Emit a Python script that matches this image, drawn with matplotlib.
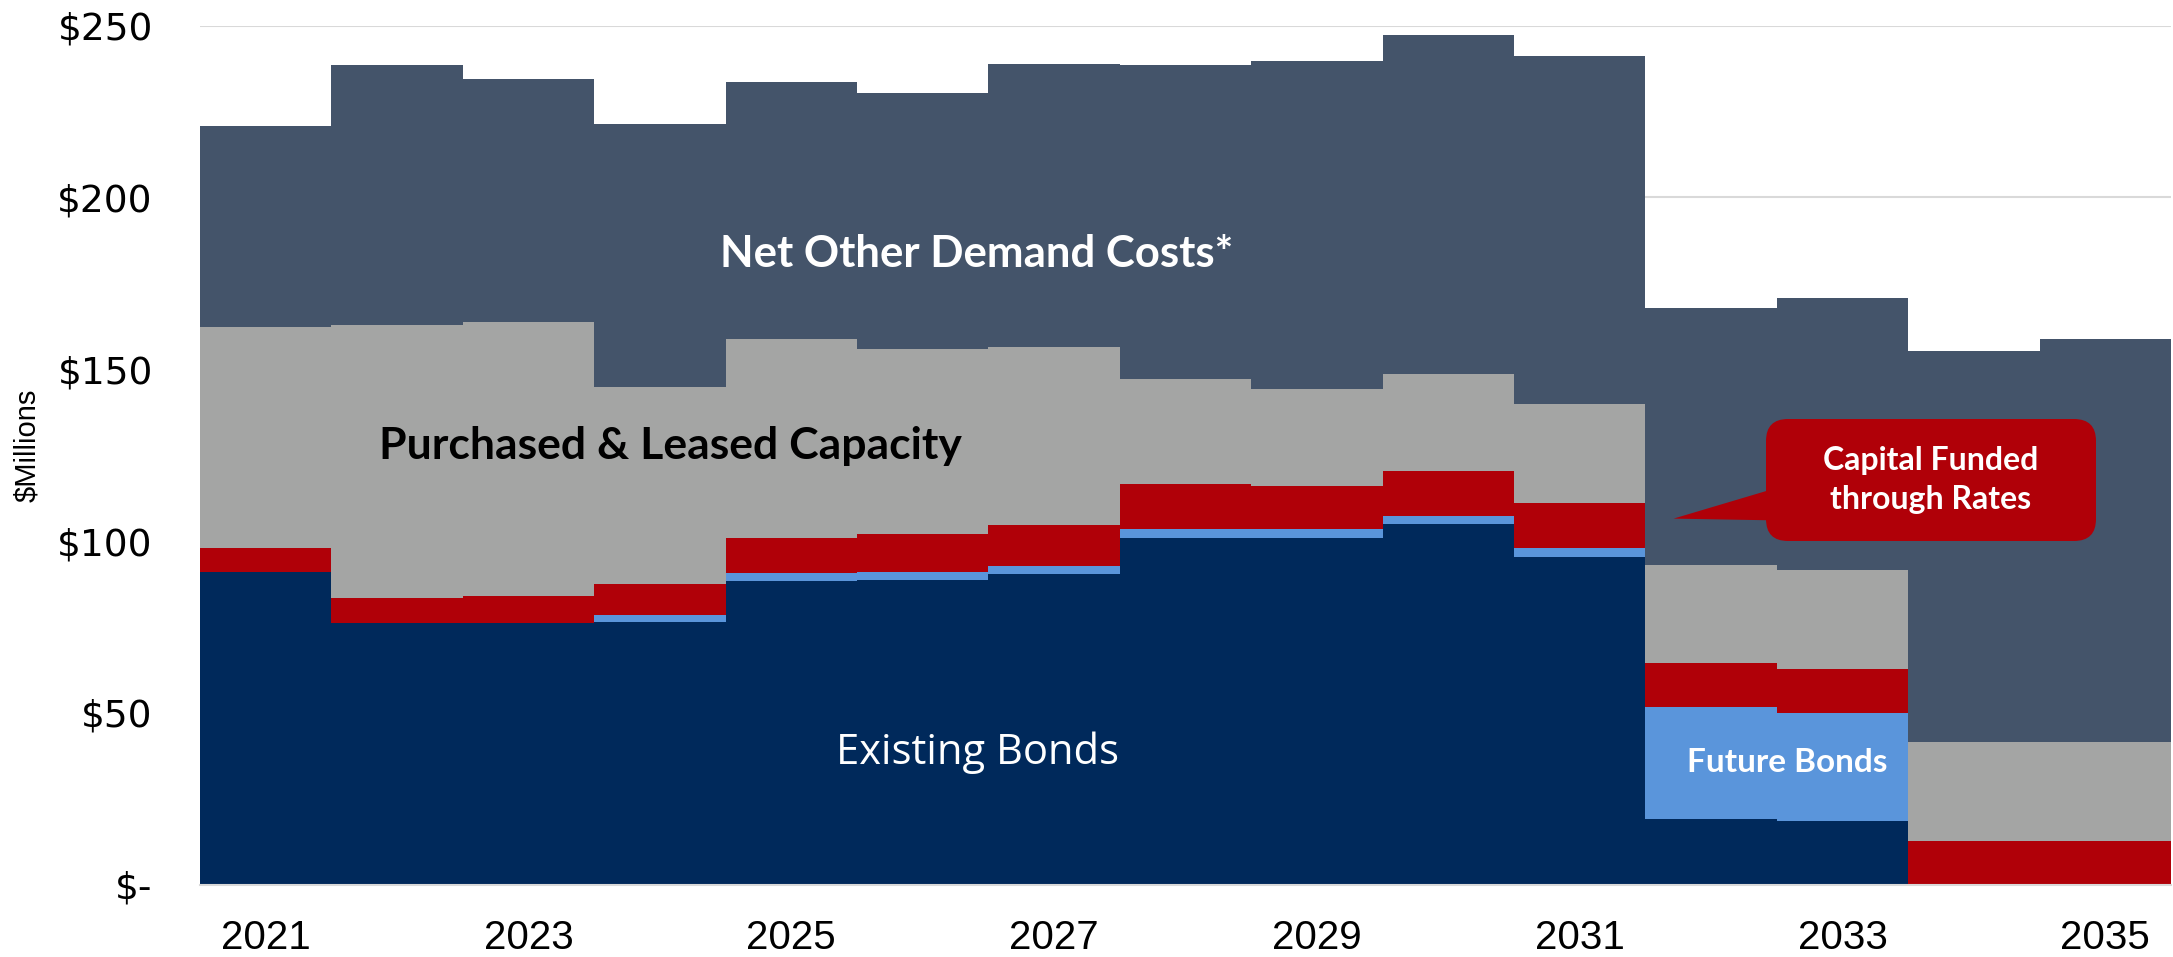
import matplotlib
matplotlib.use("Agg")
import matplotlib.pyplot as plt
from matplotlib.patches import FancyBboxPatch, Polygon
from matplotlib.transforms import IdentityTransform
import numpy as np

years = [2021, 2022, 2023, 2024, 2025, 2026, 2027, 2028, 2029, 2030, 2031, 2032, 2033, 2034, 2035]
existing_bonds = [91.0, 76.2, 76.2, 76.3, 88.3, 88.6, 90.3, 100.9, 100.9, 105.0, 95.5, 19.0, 18.6, 0.0, 0.0]
future_bonds = [0.0, 0.0, 0.0, 2.3, 2.5, 2.5, 2.4, 2.6, 2.6, 2.4, 2.6, 32.6, 31.3, 0.0, 0.0]
capital_rates = [7.0, 7.2, 7.8, 9.0, 10.0, 10.9, 11.9, 13.0, 12.6, 12.9, 13.0, 12.8, 12.9, 12.6, 12.6]
purchased_leased = [64.3, 79.4, 79.7, 57.3, 57.9, 53.9, 51.8, 30.7, 28.1, 28.4, 28.7, 28.5, 28.7, 29.0, 29.0]
net_other = [58.5, 75.7, 70.8, 76.5, 74.8, 74.4, 82.5, 91.5, 95.4, 98.5, 101.3, 75.0, 79.2, 113.8, 117.2]
y_ticks = [0, 50, 100, 150, 200, 250]
y_tick_labels = ["$-", "$50", "$100", "$150", "$200", "$250"]
x_tick_labels = ["2021", "2023", "2025", "2027", "2029", "2031", "2033", "2035"]

c_navy = "#00295B"
c_blue = "#5A95DB"
c_red = "#B00008"
c_gray = "#A4A5A4"
c_slate = "#44546A"

W, H = 2173, 957
fig = plt.figure(figsize=(W / 100, H / 100), dpi=100)
ax = fig.add_axes([200 / W, 72.4 / H, 1971 / W, 858.9 / H])

x = np.arange(len(years))
layers = [existing_bonds, future_bonds, capital_rates, purchased_leased, net_other]
colors = [c_navy, c_blue, c_red, c_gray, c_slate]
bottom = np.zeros(len(years))
for vals, col in zip(layers, colors):
    v = np.array(vals)
    ax.bar(x, v, width=1.0, bottom=bottom, color=col, linewidth=0, zorder=2)
    bottom += v

narrow = ["Liberation Sans Narrow", "Liberation Sans", "DejaVu Sans"]
ax.set_xlim(-0.5, len(years) - 0.5)
ax.set_ylim(0, 250)
ax.set_yticks(y_ticks)
ax.set_yticklabels(y_tick_labels)
ax.set_xticks([x[years.index(int(l))] for l in x_tick_labels])
ax.set_xticklabels(x_tick_labels, family=narrow)
ax.tick_params(axis="both", length=0, colors="#000000")
ax.tick_params(axis="y", pad=34, labelsize=27)
ax.tick_params(axis="x", pad=25, labelsize=29)
ax.yaxis.grid(True, color="#D9D9D9", linewidth=1.5, zorder=0)
ax.set_axisbelow(True)
for s in ["left", "right", "top"]:
    ax.spines[s].set_visible(False)
ax.spines["bottom"].set_color("#D9D9D9")
ax.spines["bottom"].set_linewidth(1.5)

fig.text(27 / W, 1 - 445 / H, "$Millions", rotation=90, ha="center", va="center",
         fontsize=21, family=narrow, color="#000000")

lato = ["Lato", "DejaVu Sans"]
ax.text(5.41, 183.5, "Net Other Demand Costs*", color="white", fontsize=31.5, fontweight="bold",
        ha="center", va="center", family=lato, zorder=5)
ax.text(3.08, 127.8, "Purchased & Leased Capacity", color="black", fontsize=32, fontweight="bold",
        ha="center", va="center", family=lato, zorder=5)
ax.text(5.42, 38.3, "Existing Bonds", color="white", fontsize=30, ha="center", va="center",
        family=["Open Sans", "DejaVu Sans"], zorder=5)
ax.text(11.58, 35.5, "Future Bonds", color="white", fontsize=24, fontweight="bold",
        ha="center", va="center", family=lato, zorder=5)

# callout (pixel coordinates, origin bottom-left)
bx0, bx1 = 1766, 2096
by0, by1 = H - 541, H - 419
box = FancyBboxPatch((bx0 + 18, by0 + 18), (bx1 - bx0) - 36, (by1 - by0) - 36,
                     boxstyle="round,pad=18,rounding_size=22",
                     transform=IdentityTransform(), facecolor=c_red, edgecolor="none", zorder=6)
fig.patches.append(box)
tail = Polygon([(bx0 + 5, H - 489.6), (1673.6, H - 518.6), (bx0 + 5, H - 520.3)], closed=True,
               transform=IdentityTransform(), facecolor=c_red, edgecolor="none", zorder=6)
fig.patches.append(tail)
fig.text((bx0 + bx1) / 2 / W, (by0 + by1) / 2 / H, "Capital Funded\nthrough Rates", color="white",
         fontsize=23, fontweight="bold", ha="center", va="center", family=lato, linespacing=1.45,
         zorder=7)

fig.savefig("out.png", dpi=100)
